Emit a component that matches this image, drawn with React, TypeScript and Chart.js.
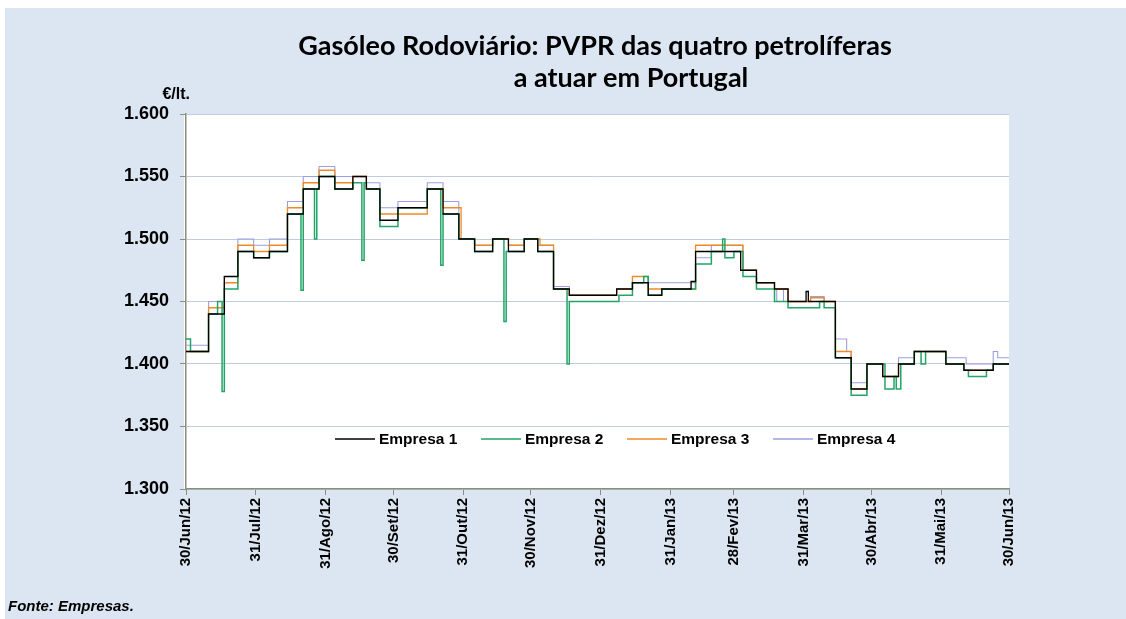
import React, { useEffect, useRef } from "react";
import { Chart, registerables } from "chart.js";

Chart.register(...registerables);

// ---- tick labels (x = day index from 30/Jun/12) ----
const tickDays = [0, 31, 62, 92, 123, 153, 184, 215, 243, 274, 304, 335, 365];
const tickLabels = [
  "30/Jun/12", "31/Jul/12", "31/Ago/12", "30/Set/12", "31/Out/12", "30/Nov/12",
  "31/Dez/12", "31/Jan/13", "28/Fev/13", "31/Mar/13", "30/Abr/13", "31/Mai/13", "30/Jun/13",
];

const seriesNames = ["Empresa 1", "Empresa 2", "Empresa 3", "Empresa 4"];
const seriesColors = ["#000000", "#22a566", "#f08a24", "#9d9fe0"];
const seriesWidths = [1.3, 1.5, 1.3, 1.1];

// ---- price change points: day index and €/lt value (value holds until next change) ----
const e1Days = [0, 10, 17, 23, 30, 37, 45, 52, 59, 66, 74, 80, 86, 94, 107, 114, 121, 128, 136, 143, 150, 156, 163, 170, 191, 198, 205, 211, 224, 226, 246, 253, 261, 267, 275, 276, 288, 295, 302, 309, 316, 323, 337, 345, 358, 365];
const e1Vals = [1.41, 1.44, 1.47, 1.49, 1.485, 1.49, 1.52, 1.54, 1.55, 1.54, 1.55, 1.54, 1.515, 1.525, 1.54, 1.52, 1.50, 1.49, 1.50, 1.49, 1.50, 1.49, 1.46, 1.455, 1.46, 1.465, 1.455, 1.46, 1.466, 1.49, 1.475, 1.465, 1.46, 1.45, 1.458, 1.45, 1.405, 1.38, 1.40, 1.39, 1.40, 1.41, 1.40, 1.395, 1.40, 1.40];

const e2Days = [0, 2, 10, 14, 16, 17, 23, 30, 37, 45, 51, 52, 57, 58, 59, 66, 74, 78, 79, 80, 86, 94, 107, 113, 114, 121, 128, 136, 141, 142, 150, 156, 163, 169, 170, 192, 198, 203, 205, 211, 226, 233, 238, 239, 243, 247, 253, 261, 267, 281, 283, 288, 295, 302, 310, 314, 315, 317, 323, 326, 328, 337, 345, 347, 355, 358, 365];
const e2Vals = [1.42, 1.41, 1.44, 1.45, 1.378, 1.46, 1.49, 1.485, 1.49, 1.52, 1.459, 1.54, 1.50, 1.54, 1.55, 1.54, 1.545, 1.483, 1.545, 1.54, 1.51, 1.525, 1.54, 1.479, 1.52, 1.50, 1.49, 1.50, 1.434, 1.49, 1.50, 1.49, 1.46, 1.40, 1.45, 1.455, 1.465, 1.47, 1.455, 1.46, 1.48, 1.49, 1.50, 1.485, 1.49, 1.47, 1.46, 1.45, 1.445, 1.45, 1.445, 1.405, 1.375, 1.40, 1.38, 1.39, 1.38, 1.40, 1.41, 1.40, 1.41, 1.40, 1.395, 1.39, 1.395, 1.40, 1.40];

const e3Days = [0, 10, 17, 23, 30, 37, 45, 52, 59, 66, 74, 80, 86, 107, 114, 122, 128, 136, 143, 150, 157, 163, 170, 191, 198, 205, 226, 247, 253, 261, 267, 277, 283, 288, 295, 302, 309, 316, 323, 337, 345, 358, 365];
const e3Vals = [1.41, 1.445, 1.465, 1.495, 1.49, 1.495, 1.525, 1.545, 1.555, 1.545, 1.55, 1.54, 1.52, 1.54, 1.525, 1.50, 1.495, 1.50, 1.495, 1.50, 1.495, 1.46, 1.455, 1.46, 1.47, 1.46, 1.495, 1.475, 1.465, 1.46, 1.45, 1.453, 1.45, 1.41, 1.38, 1.40, 1.39, 1.40, 1.41, 1.40, 1.395, 1.40, 1.40];

const e4Days = [0, 10, 17, 23, 30, 37, 45, 52, 59, 66, 80, 86, 94, 107, 114, 121, 128, 136, 143, 150, 156, 163, 170, 191, 198, 205, 226, 233, 247, 253, 261, 262, 265, 267, 277, 283, 288, 293, 295, 302, 309, 316, 323, 337, 346, 358, 360, 365];
const e4Vals = [1.415, 1.45, 1.47, 1.50, 1.495, 1.50, 1.53, 1.55, 1.558, 1.55, 1.545, 1.525, 1.53, 1.545, 1.53, 1.50, 1.495, 1.50, 1.495, 1.50, 1.495, 1.462, 1.455, 1.46, 1.47, 1.465, 1.485, 1.495, 1.475, 1.465, 1.46, 1.45, 1.46, 1.45, 1.454, 1.45, 1.42, 1.41, 1.385, 1.40, 1.39, 1.405, 1.41, 1.405, 1.40, 1.41, 1.405, 1.405];

const allDays = [e1Days, e2Days, e3Days, e4Days];
const allVals = [e1Vals, e2Vals, e3Vals, e4Vals];

const TITLE_1 = "Gasóleo Rodoviário: PVPR das quatro petrolíferas";
const TITLE_2 = "a atuar em Portugal";
const UNIT = "€/lt.";
const SOURCE = "Fonte: Empresas.";

const AXIS_COLOR = "#8a8e7c";
const GRID_COLOR = "#c0cbe0";
const FONT = "'Liberation Sans', Arial, sans-serif";

const decorPlugin = {
  id: "decor",
  afterDraw(chart: any) {
    const { ctx, chartArea } = chart;
    ctx.save();
    ctx.fillStyle = "#000";
    ctx.textBaseline = "alphabetic";
    // title
    ctx.font = "bold 27px Lato, 'Noto Sans', sans-serif";
    ctx.textAlign = "center";
    ctx.fillText(TITLE_1, 590, 47);
    ctx.fillText(TITLE_2, 626, 79);
    // unit
    ctx.font = `bold 16px ${FONT}`;
    ctx.textAlign = "right";
    ctx.fillText(UNIT, chartArea.left + 4, chartArea.top - 15);
    // source
    ctx.font = `italic bold 15px ${FONT}`;
    ctx.textAlign = "left";
    ctx.fillText(SOURCE, 3, 603);
    // legend inside the plot area
    ctx.font = `bold 15.5px ${FONT}`;
    const ly = chartArea.top + 325;
    const lx0 = chartArea.left + 149;
    ctx.textBaseline = "middle";
    seriesNames.forEach((name, i) => {
      const lx = lx0 + i * 146;
      ctx.strokeStyle = seriesColors[i];
      ctx.lineWidth = 1.5;
      ctx.beginPath();
      ctx.moveTo(lx, ly);
      ctx.lineTo(lx + 40, ly);
      ctx.stroke();
      ctx.fillText(name, lx + 44, ly + 1);
    });
    ctx.restore();
  },
};

export default function App() {
  const ref = useRef<HTMLCanvasElement>(null);

  useEffect(() => {
    if (!ref.current) return;
    Chart.defaults.font.family = FONT;
    const datasets = seriesNames.map((name, i) => ({
      label: name,
      data: allDays[i].map((d, j) => ({ x: d, y: allVals[i][j] })),
      borderColor: seriesColors[i],
      backgroundColor: seriesColors[i],
      borderWidth: seriesWidths[i],
      pointRadius: 0,
      stepped: "before" as const,
      fill: false,
    }));
    const chart = new Chart(ref.current, {
      type: "line",
      data: { datasets },
      options: {
        animation: false,
        responsive: false,
        devicePixelRatio: 1,
        layout: { padding: { left: 117, right: 117, top: 106, bottom: 0 } },
        plugins: { legend: { display: false }, title: { display: false }, tooltip: { enabled: false } },
        events: [],
        scales: {
          x: {
            type: "linear",
            min: 0,
            max: 365,
            afterBuildTicks: (s: any) => {
              s.ticks = tickDays.map((v) => ({ value: v }));
            },
            afterFit: (s: any) => {
              s.height = 130;
            },
            ticks: {
              autoSkip: false,
              minRotation: 90,
              maxRotation: 90,
              padding: 3,
              color: "#000",
              font: { size: 15, weight: "bold" },
              callback: (v: any) => tickLabels[tickDays.indexOf(Number(v))] ?? "",
            },
            grid: { drawOnChartArea: false, drawTicks: true, tickLength: 6, tickColor: AXIS_COLOR },
            border: { color: AXIS_COLOR, width: 1.5 },
          },
          y: {
            min: 1.3,
            max: 1.6,
            afterFit: (s: any) => {
              s.width = 64;
            },
            ticks: {
              stepSize: 0.05,
              padding: 11,
              color: "#000",
              font: { size: 18, weight: "bold" },
              callback: (v: any) => Number(v).toFixed(3),
            },
            grid: { color: GRID_COLOR, lineWidth: 1, tickColor: AXIS_COLOR, tickLength: 6 },
            border: { color: AXIS_COLOR, width: 1.5 },
          },
        },
      },
      plugins: [decorPlugin],
    });
    return () => chart.destroy();
  }, []);

  return (
    <div style={{ position: "fixed", left: 0, top: 0, width: 1126, height: 619, background: "#ffffff" }}>
      <div style={{ position: "absolute", left: 5, top: 8, width: 1121, height: 611, background: "#dce6f2" }}>
        <div style={{ position: "absolute", left: 179, top: 106, width: 825, height: 375, background: "#ffffff" }} />
        <canvas ref={ref} width={1121} height={611} style={{ position: "absolute", left: 0, top: 0, width: 1121, height: 611 }} />
      </div>
    </div>
  );
}
